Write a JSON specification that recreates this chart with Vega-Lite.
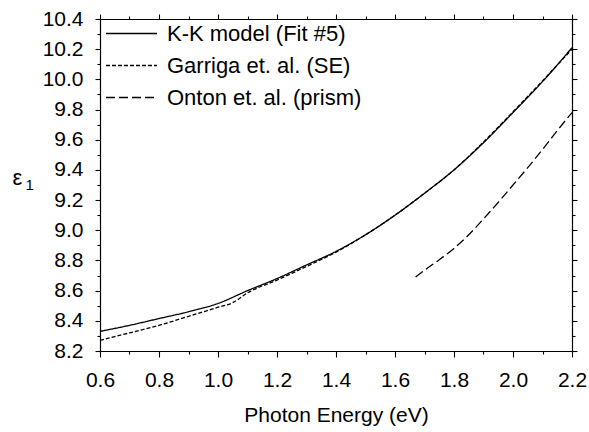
{
  "$schema": "https://vega.github.io/schema/vega-lite/v6.json",
  "width": 472,
  "height": 332,
  "autosize": "none",
  "padding": {"left": 100, "top": 19, "right": 17, "bottom": 81},
  "background": "white",
  "config": {
    "font": "Liberation Sans",
    "view": {"stroke": null},
    "axis": {
      "domainColor": "black",
      "domainWidth": 1.2,
      "tickColor": "black",
      "tickWidth": 1.1,
      "labelColor": "black",
      "titleColor": "black",
      "grid": false,
      "labelFlush": false,
      "labelOverlap": false,
      "labelFont": "Liberation Sans",
      "titleFont": "Liberation Sans",
      "titleFontWeight": "normal"
    }
  },
  "data": {
    "values": [
      {"series": "K-K model (Fit #5)", "E": 0.6, "eps": 8.33},
      {"series": "K-K model (Fit #5)", "E": 0.7, "eps": 8.37},
      {"series": "K-K model (Fit #5)", "E": 0.8, "eps": 8.415},
      {"series": "K-K model (Fit #5)", "E": 0.9, "eps": 8.46},
      {"series": "K-K model (Fit #5)", "E": 1.0, "eps": 8.515},
      {"series": "K-K model (Fit #5)", "E": 1.1, "eps": 8.60},
      {"series": "K-K model (Fit #5)", "E": 1.2, "eps": 8.68},
      {"series": "K-K model (Fit #5)", "E": 1.3, "eps": 8.77},
      {"series": "K-K model (Fit #5)", "E": 1.4, "eps": 8.86},
      {"series": "K-K model (Fit #5)", "E": 1.5, "eps": 8.97},
      {"series": "K-K model (Fit #5)", "E": 1.6, "eps": 9.10},
      {"series": "K-K model (Fit #5)", "E": 1.7, "eps": 9.245},
      {"series": "K-K model (Fit #5)", "E": 1.8, "eps": 9.40},
      {"series": "K-K model (Fit #5)", "E": 1.9, "eps": 9.58},
      {"series": "K-K model (Fit #5)", "E": 2.0, "eps": 9.78},
      {"series": "K-K model (Fit #5)", "E": 2.1, "eps": 9.985},
      {"series": "K-K model (Fit #5)", "E": 2.2, "eps": 10.21},
      {"series": "Garriga et. al. (SE)", "E": 0.6, "eps": 8.27},
      {"series": "Garriga et. al. (SE)", "E": 0.7, "eps": 8.32},
      {"series": "Garriga et. al. (SE)", "E": 0.8, "eps": 8.37},
      {"series": "Garriga et. al. (SE)", "E": 0.9, "eps": 8.43},
      {"series": "Garriga et. al. (SE)", "E": 1.0, "eps": 8.49},
      {"series": "Garriga et. al. (SE)", "E": 1.05, "eps": 8.52},
      {"series": "Garriga et. al. (SE)", "E": 1.1, "eps": 8.585},
      {"series": "Garriga et. al. (SE)", "E": 1.2, "eps": 8.67},
      {"series": "Garriga et. al. (SE)", "E": 1.3, "eps": 8.76},
      {"series": "Garriga et. al. (SE)", "E": 1.4, "eps": 8.855},
      {"series": "Garriga et. al. (SE)", "E": 1.5, "eps": 8.97},
      {"series": "Garriga et. al. (SE)", "E": 1.6, "eps": 9.10},
      {"series": "Garriga et. al. (SE)", "E": 1.7, "eps": 9.245},
      {"series": "Garriga et. al. (SE)", "E": 1.8, "eps": 9.40},
      {"series": "Garriga et. al. (SE)", "E": 1.9, "eps": 9.585},
      {"series": "Garriga et. al. (SE)", "E": 2.0, "eps": 9.785},
      {"series": "Garriga et. al. (SE)", "E": 2.1, "eps": 9.99},
      {"series": "Garriga et. al. (SE)", "E": 2.2, "eps": 10.20},
      {"series": "Onton et. al. (prism)", "E": 1.67, "eps": 8.69},
      {"series": "Onton et. al. (prism)", "E": 1.7, "eps": 8.735},
      {"series": "Onton et. al. (prism)", "E": 1.75, "eps": 8.805},
      {"series": "Onton et. al. (prism)", "E": 1.8, "eps": 8.88},
      {"series": "Onton et. al. (prism)", "E": 1.85, "eps": 8.97},
      {"series": "Onton et. al. (prism)", "E": 1.9, "eps": 9.075},
      {"series": "Onton et. al. (prism)", "E": 1.95, "eps": 9.185},
      {"series": "Onton et. al. (prism)", "E": 2.0, "eps": 9.30},
      {"series": "Onton et. al. (prism)", "E": 2.05, "eps": 9.415},
      {"series": "Onton et. al. (prism)", "E": 2.1, "eps": 9.535},
      {"series": "Onton et. al. (prism)", "E": 2.15, "eps": 9.66},
      {"series": "Onton et. al. (prism)", "E": 2.2, "eps": 9.78}
    ]
  },
  "layer": [
    {
      "mark": {"type": "line", "color": "black", "strokeWidth": 1.3, "interpolate": "monotone"},
      "encoding": {
        "x": {
          "field": "E", "type": "quantitative",
          "scale": {"domain": [0.6, 2.2], "nice": false, "zero": false},
          "axis": {
            "orient": "bottom",
            "values": [0.6, 0.8, 1.0, 1.2, 1.4, 1.6, 1.8, 2.0, 2.2],
            "format": ".1f",
            "tickSize": 6,
            "labelFontSize": 21,
            "labelPadding": 12,
            "title": "Photon Energy (eV)",
            "titleFontSize": 21,
            "titlePadding": 14
          }
        },
        "y": {
          "field": "eps", "type": "quantitative",
          "scale": {"domain": [8.2, 10.4], "nice": false, "zero": false},
          "axis": {
            "orient": "left",
            "values": [8.2, 8.4, 8.6, 8.8, 9.0, 9.2, 9.4, 9.6, 9.8, 10.0, 10.2, 10.4],
            "format": ".1f",
            "tickSize": 5,
            "labelFontSize": 21,
            "labelPadding": 12,
            "title": "ε",
            "titleAngle": 0,
            "titleFontSize": 22,
            "titleAlign": "left",
            "titleBaseline": "middle",
            "titleX": -88,
            "titleY": 158
          }
        },
        "strokeDash": {
          "field": "series", "type": "nominal",
          "scale": {
            "domain": ["K-K model (Fit #5)", "Garriga et. al. (SE)", "Onton et. al. (prism)"],
            "range": [[1, 0], [4, 2], [9, 4]]
          },
          "legend": {
            "title": null,
            "orient": "none",
            "legendX": 18,
            "legendY": 1,
            "padding": 0,
            "symbolType": "M-2,0H2",
            "symbolSize": 650,
            "symbolStrokeColor": "black",
            "symbolStrokeWidth": 1.3,
            "labelFontSize": 22,
            "labelColor": "black",
            "labelOffset": 22,
            "labelLimit": 0,
            "rowPadding": 7
          }
        }
      }
    },
    {
      "mark": {"type": "line", "opacity": 0},
      "encoding": {
        "x": {
          "field": "E", "type": "quantitative",
          "axis": {
            "orient": "bottom", "values": [0.7, 0.9, 1.1, 1.3, 1.5, 1.7, 1.9, 2.1],
            "labels": false, "tickSize": 3, "domain": false, "title": null
          }
        },
        "y": {
          "field": "eps", "type": "quantitative",
          "axis": {
            "orient": "left", "values": [8.3, 8.5, 8.7, 8.9, 9.1, 9.3, 9.5, 9.7, 9.9, 10.1, 10.3],
            "labels": false, "tickSize": 3, "domain": false,
            "title": "1",
            "titleAngle": 0,
            "titleFontSize": 15,
            "titleAlign": "left",
            "titleBaseline": "middle",
            "titleX": -75,
            "titleY": 165
          }
        },
        "detail": {"field": "series", "type": "nominal"}
      }
    },
    {
      "mark": {"type": "line", "opacity": 0},
      "encoding": {
        "x": {
          "field": "E", "type": "quantitative",
          "axis": {
            "orient": "top", "values": [0.6, 0.8, 1.0, 1.2, 1.4, 1.6, 1.8, 2.0, 2.2],
            "labels": false, "tickSize": 5, "title": null
          }
        },
        "y": {
          "field": "eps", "type": "quantitative",
          "axis": {
            "orient": "right", "values": [8.2, 8.4, 8.6, 8.8, 9.0, 9.2, 9.4, 9.6, 9.8, 10.0, 10.2, 10.4],
            "labels": false, "tickSize": 5, "title": null
          }
        },
        "detail": {"field": "series", "type": "nominal"}
      }
    },
    {
      "mark": {"type": "line", "opacity": 0},
      "encoding": {
        "x": {
          "field": "E", "type": "quantitative",
          "axis": {
            "orient": "top", "values": [0.7, 0.9, 1.1, 1.3, 1.5, 1.7, 1.9, 2.1],
            "labels": false, "tickSize": 3, "domain": false, "title": null
          }
        },
        "y": {
          "field": "eps", "type": "quantitative",
          "axis": {
            "orient": "right", "values": [8.3, 8.5, 8.7, 8.9, 9.1, 9.3, 9.5, 9.7, 9.9, 10.1, 10.3],
            "labels": false, "tickSize": 3, "domain": false, "title": null
          }
        },
        "detail": {"field": "series", "type": "nominal"}
      }
    }
  ],
  "resolve": {"axis": {"x": "independent", "y": "independent"}}
}
